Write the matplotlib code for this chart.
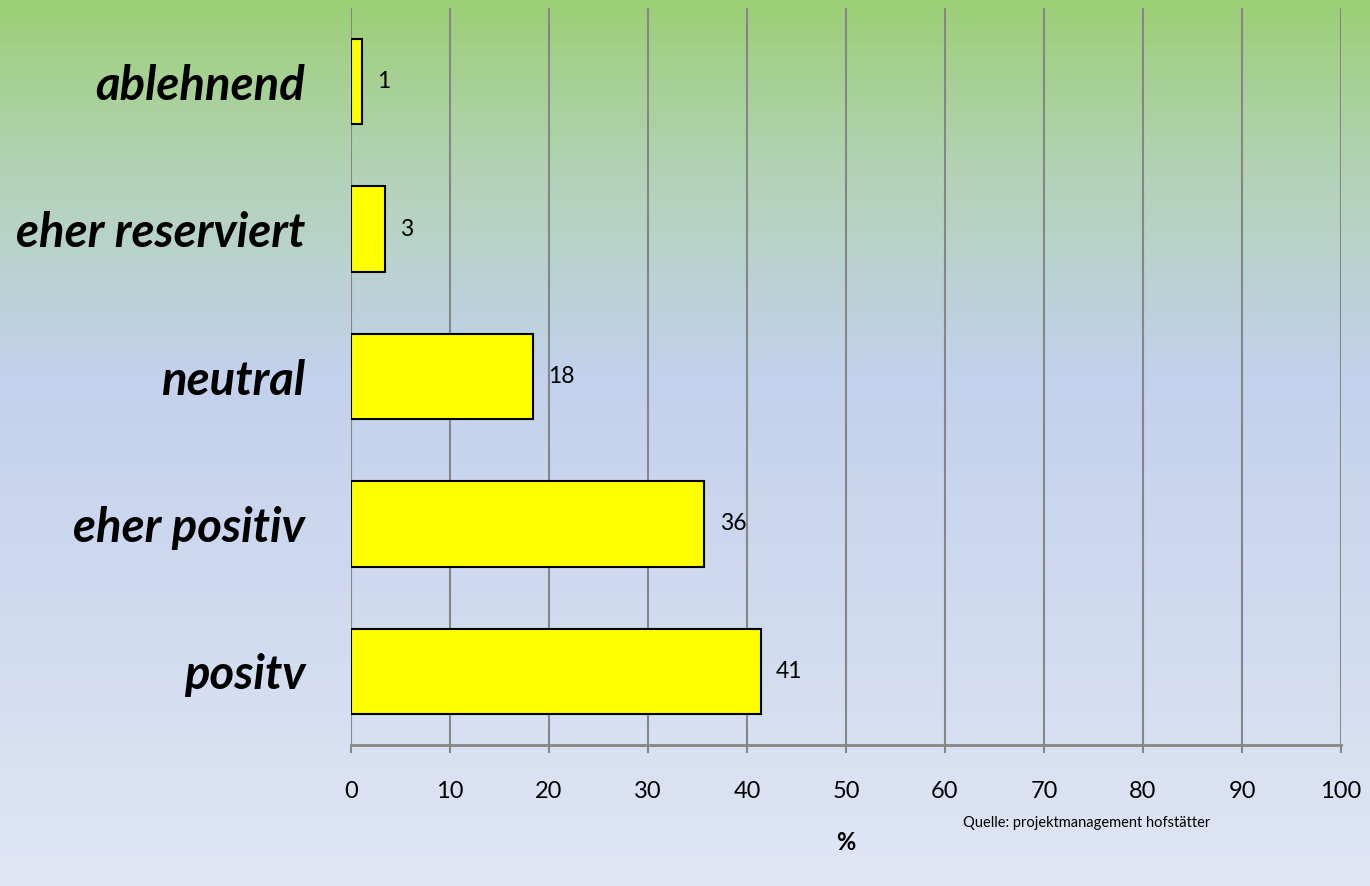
import numpy as np
import matplotlib.pyplot as plt
from matplotlib.colors import LinearSegmentedColormap

# Einstellung - Werte in %
kategorien = ['positv', 'eher positiv', 'neutral', 'eher reserviert', 'ablehnend']
werte = [41.4, 35.7, 18.4, 3.4, 1.1]
beschriftung = ['41', '36', '18', '3', '1']
x_ticks = [0, 10, 20, 30, 40, 50, 60, 70, 80, 90, 100]

plt.rcParams['font.family'] = ['Lato', 'DejaVu Sans']

fig = plt.figure(figsize=(13.7, 8.86), dpi=100)

# Hintergrund mit Farbverlauf
bg = fig.add_axes([0, 0, 1, 1], zorder=-10)
cmap = LinearSegmentedColormap.from_list(
    'bg', [(0.0, '#9ccf76'), (0.2, '#b3d3b8'), (0.42, '#c2d1ec'), (1.0, '#e0e6f4')])
grad = np.linspace(0, 1, 256).reshape(-1, 1)
bg.imshow(grad, aspect='auto', cmap=cmap, extent=[0, 1, 0, 1], origin='upper')
bg.axis('off')

ax = fig.add_axes([351 / 1370, 1 - 745 / 886, 990 / 1370, 737 / 886])
ax.patch.set_alpha(0)

y = np.arange(len(kategorien))
bars = ax.barh(y, werte, height=0.58, color='#ffff00', edgecolor='black', linewidth=1.5, zorder=3)

for b, txt in zip(bars, beschriftung):
    ax.annotate(txt, (b.get_width(), b.get_y() + b.get_height() / 2),
                xytext=(11, 0), textcoords='offset points',
                ha='left', va='center', fontsize=16.5)

ax.set_xlim(0, 100)
ax.set_ylim(-0.5, 4.5)
ax.set_xticks(x_ticks)
ax.set_yticks(y)
ax.set_yticklabels(kategorien, fontsize=34, fontweight='bold', fontstyle='italic')
ax.tick_params(axis='y', length=0, pad=33)
ax.tick_params(axis='x', length=6, width=1.5, color='#868686', labelsize=17, pad=20)

ax.grid(axis='x', color='#868686', linewidth=1.5, zorder=0)
for s in ['top', 'right']:
    ax.spines[s].set_visible(False)
ax.spines['left'].set_visible(False)
ax.spines['bottom'].set_color('#868686')
ax.spines['bottom'].set_linewidth(2)

fig.text(846 / 1370, 1 - 842 / 886, '%', fontsize=17, fontweight='bold',
         ha='center', va='center')
fig.text(1087 / 1370, 1 - 823 / 886, 'Quelle: projektmanagement hofstätter',
         fontsize=10.5, ha='center', va='center')

fig.savefig('out.png', dpi=100)
